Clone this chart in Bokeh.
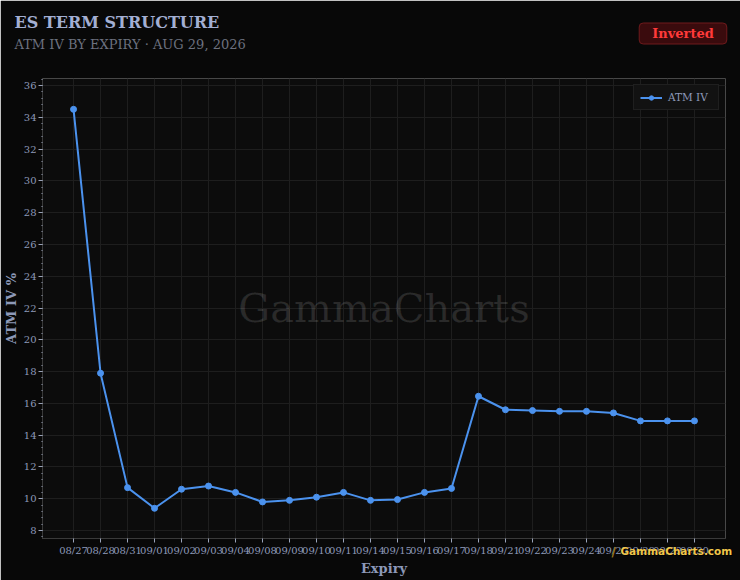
from bokeh.plotting import figure
from bokeh.models import Range1d, FixedTicker, Label
from bokeh.embed import file_html
from bokeh.resources import INLINE

expiries = ["08/27", "08/28", "08/31", "09/01", "09/02", "09/03", "09/04", "09/08",
            "09/09", "09/10", "09/11", "09/14", "09/15", "09/16", "09/17", "09/18",
            "09/21", "09/22", "09/23", "09/24", "09/25", "09/28", "09/29", "09/30"]
atm_iv = [34.5, 17.9, 10.7, 9.4, 10.6, 10.8, 10.4, 9.8, 9.9, 10.1, 10.4, 9.9,
          9.95, 10.4, 10.65, 16.45, 15.6, 15.55, 15.5, 15.5, 15.4, 14.9, 14.9, 14.9]
y_ticks = [8, 10, 12, 14, 16, 18, 20, 22, 24, 26, 28, 30, 32, 34, 36]

title_text = "ES TERM STRUCTURE"
subtitle_text = "ATM IV BY EXPIRY \u00b7 AUG 29, 2026"
badge_text = "Inverted"
watermark_text = "GammaCharts"
brand_text = "GammaCharts.com"

FONT = "DejaVu Serif"
BG = "#080808"
FRAME = "#0c0c0c"
GRID = "#1e1e1e"
TICK = "#8d99b8"
BLUE = "#4b92ee"

W, H = 740, 580
xs = list(range(len(expiries)))

p = figure(width=W, height=H, output_backend="svg", toolbar_location=None,
           x_range=Range1d(-1.15, len(expiries) - 1 + 1.15),
           y_range=Range1d(7.5, 36.44),
           min_border_left=42, min_border_right=15, min_border_top=78, min_border_bottom=42)
p.background_fill_color = FRAME
p.border_fill_color = BG
p.outline_line_color = None

p.line(xs, atm_iv, color=BLUE, line_width=2, legend_label="ATM IV")
p.scatter(xs, atm_iv, color=BLUE, size=6, legend_label="ATM IV")

# axes
p.xaxis.ticker = FixedTicker(ticks=xs)
p.xaxis.major_label_overrides = {i: s for i, s in enumerate(expiries)}
p.yaxis.ticker = FixedTicker(ticks=y_ticks, minor_ticks=[7.6 + 0.4 * k for k in range(0, 73)])
for ax in (p.xaxis, p.yaxis):
    ax.axis_line_color = "#3a3a3a"
    ax.major_tick_line_color = "#9aa3b8"
    ax.minor_tick_line_color = "#9aa3b8"
    ax.major_tick_out = 4
    ax.major_tick_in = 0
    ax.minor_tick_out = 1
    ax.minor_tick_in = 0
    ax.major_label_text_color = TICK
    ax.major_label_text_font = FONT
    ax.major_label_text_font_size = "10px"
    ax.major_label_standoff = 2
    ax.axis_label_text_font = FONT
    ax.axis_label_text_font_size = "13px"
    ax.axis_label_text_font_style = "bold"
    ax.axis_label_text_color = TICK
    ax.axis_label_standoff = 2
p.xaxis.minor_tick_line_color = None
p.xaxis.axis_label = "Expiry"
p.yaxis.axis_label = "ATM IV %"

p.xgrid.grid_line_color = GRID
p.ygrid.grid_line_color = GRID
p.xgrid.ticker = FixedTicker(ticks=xs)
p.ygrid.ticker = FixedTicker(ticks=y_ticks)

# legend
lg = p.legend[0]
lg.location = "top_right"
lg.background_fill_color = "#121212"
lg.background_fill_alpha = 1
lg.border_line_color = "#2c2c2c"
lg.label_text_color = TICK
lg.label_text_font = FONT
lg.label_text_font_size = "10.5px"
lg.glyph_width = 22
lg.glyph_height = 11
lg.label_height = 11
lg.label_width = 44
lg.label_standoff = 6
lg.padding = 6
lg.margin = 6
lg.spacing = 0

# watermark
p.add_layout(Label(x=11.5, y=22.0, text=watermark_text, text_font=FONT, text_font_size="40px",
                   text_color="#ffffff", text_alpha=0.12, text_align="center",
                   text_baseline="middle", level="underlay"))

# transparent overlay figure laid over the chart; its data units are page pixels
ov = figure(width=W, height=H, output_backend="svg", toolbar_location=None,
            x_range=Range1d(0, W), y_range=Range1d(H, 0),
            x_axis_type=None, y_axis_type=None,
            min_border=0, min_border_left=0, min_border_right=0,
            min_border_top=0, min_border_bottom=0)
ov.background_fill_color = None
ov.border_fill_color = None
ov.outline_line_color = None
ov.styles = {"position": "absolute", "top": "0px", "left": "0px"}

ov.add_layout(Label(x=14, y=21.5, text=title_text,
                    text_font=FONT, text_font_size="16px", text_font_style="bold",
                    text_color="#a3afd3", text_baseline="middle"))
ov.add_layout(Label(x=14, y=43.5, text=subtitle_text,
                    text_font=FONT, text_font_size="13px",
                    text_color="#6c717f", text_baseline="middle"))
ov.add_layout(Label(x=682.5, y=33, text=badge_text,
                    text_font=FONT, text_font_size="13px", text_font_style="bold",
                    text_color="#ff3a3a", text_align="center", text_baseline="middle",
                    background_fill_color="#3a0b0d", border_line_color="#6e1a1c",
                    border_line_width=1, padding=[13, 13, 3, 3], border_radius=4))
ov.add_layout(Label(x=611, y=551, text="/",
                    text_font="DejaVu Sans", text_font_size="12px", text_font_style="bold",
                    text_color="#9a7a20", text_baseline="middle"))
ov.add_layout(Label(x=621, y=551, text=brand_text,
                    text_font="DejaVu Sans", text_font_size="10.5px", text_font_style="bold",
                    text_color="#000000", text_baseline="middle"))
ov.add_layout(Label(x=620, y=550, text=brand_text,
                    text_font="DejaVu Sans", text_font_size="10.5px", text_font_style="bold",
                    text_color="#f0c64a", text_baseline="middle"))

html = file_html([p, ov], INLINE)
html = html.replace("<body>", '<body style="background:#080808">', 1)
open("out.html", "w").write(html)
